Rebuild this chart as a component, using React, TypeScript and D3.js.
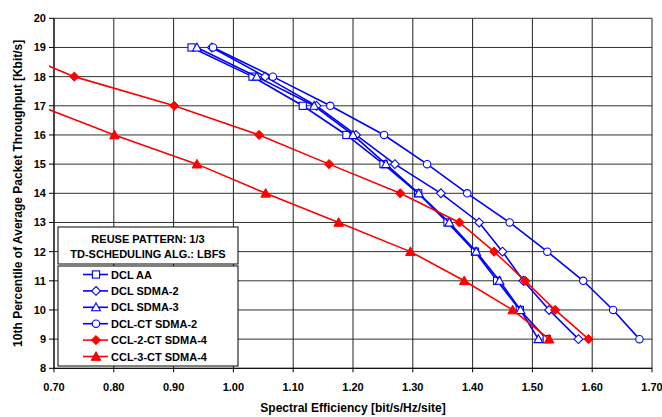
import React from 'react';
import * as d3 from 'd3';

// ---- data ----
const xTicks = [0.7, 0.8, 0.9, 1.0, 1.1, 1.2, 1.3, 1.4, 1.5, 1.6, 1.7];
const yTicks = [8, 9, 10, 11, 12, 13, 14, 15, 16, 17, 18, 19, 20];

const yBlue = [19, 18, 17, 16, 15, 14, 13, 12, 11, 10, 9];
const dclAA = [0.930, 1.032, 1.116, 1.189, 1.251, 1.309, 1.358, 1.404, 1.441, 1.479, 1.524];
const dclSdma2 = [0.964, 1.053, 1.139, 1.205, 1.270, 1.347, 1.411, 1.450, 1.485, 1.528, 1.577];
const dclSdma3 = [0.939, 1.039, 1.135, 1.200, 1.255, 1.310, 1.361, 1.406, 1.445, 1.480, 1.510];
const dclCtSdma2 = [0.966, 1.066, 1.162, 1.252, 1.324, 1.391, 1.462, 1.525, 1.585, 1.635, 1.679];

const yCcl2 = [19, 18, 17, 16, 15, 14, 13, 12, 11, 10, 9];
const ccl2CtSdma4 = [0.617, 0.734, 0.901, 1.043, 1.160, 1.279, 1.378, 1.436, 1.488, 1.538, 1.594];
const yCcl3 = [17, 16, 15, 14, 13, 12, 11, 10, 9];
const ccl3CtSdma4 = [0.675, 0.801, 0.939, 1.054, 1.176, 1.296, 1.386, 1.467, 1.528];

const seriesNames = ['DCL AA', 'DCL SDMA-2', 'DCL SDMA-3', 'DCL-CT SDMA-2', 'CCL-2-CT SDMA-4', 'CCL-3-CT SDMA-4'];
const seriesMarkers = ['square', 'diamond', 'triangle', 'circle', 'diamond', 'triangle'];
const seriesColors = ['#0000FF', '#0000FF', '#0000FF', '#0000FF', '#FF0000', '#FF0000'];
const seriesFilled = [false, false, false, false, true, true];
const seriesX = [dclAA, dclSdma2, dclSdma3, dclCtSdma2, ccl2CtSdma4, ccl3CtSdma4];
const seriesY = [yBlue, yBlue, yBlue, yBlue, yCcl2, yCcl3];

const legendTitle = ['REUSE PATTERN: 1/3', 'TD-SCHEDULING ALG.: LBFS'];
const xTitle = 'Spectral Efficiency [bit/s/Hz/site]';
const yTitle = '10th Percentile of Average Packet Throughput [Kbit/s]';

const W = 662;
const H = 417;
const PL = 54, PR = 652, PT = 18.3, PB = 368.3;
const FONT = '"Liberation Sans", Arial, sans-serif';

function Marker({ type, cx, cy, color, filled }: { type: string; cx: number; cy: number; color: string; filled: boolean }) {
  const fill = filled ? color : '#fff';
  const sw = filled ? 1 : 1.1;
  if (type === 'square') {
    const s = 3.6;
    return <rect x={cx - s} y={cy - s} width={2 * s} height={2 * s} fill={fill} stroke={color} strokeWidth={sw} />;
  }
  if (type === 'diamond') {
    const s = filled ? 4.6 : 4.4;
    return <path d={`M${cx},${cy - s}L${cx + s},${cy}L${cx},${cy + s}L${cx - s},${cy}Z`} fill={fill} stroke={color} strokeWidth={sw} />;
  }
  if (type === 'triangle') {
    const s = filled ? 4.8 : 4.4;
    return <path d={`M${cx},${cy - s}L${cx + s},${cy + s * 0.8}L${cx - s},${cy + s * 0.8}Z`} fill={fill} stroke={color} strokeWidth={sw} />;
  }
  return <circle cx={cx} cy={cy} r={3.7} fill={fill} stroke={color} strokeWidth={sw} />;
}

export default function App() {
  const x = d3.scaleLinear().domain([0.7, 1.7]).range([PL, PR]);
  const y = d3.scaleLinear().domain([8, 20]).range([PB, PT]);
  const line = d3.line<[number, number]>().x(d => x(d[0])).y(d => y(d[1]));

  const legX = 58, legW = 180;
  const leg1Top = 227, leg1Bot = 264;
  const leg2Top = 266, leg2Bot = 366;
  const legRow0 = 274.5, legStep = 16.4;

  return (
    <svg width={W} height={H} style={{ position: 'absolute', left: 0, top: 0, background: '#fff' }} fontFamily={FONT}>
      <defs>
        <clipPath id="plotclip">
          <rect x={PL - 5} y={PT - 6} width={PR - PL + 11} height={PB - PT + 12} />
        </clipPath>
      </defs>
      <rect x={0} y={0} width={W} height={H} fill="#fff" />
      {/* gridlines */}
      {yTicks.map(t => (
        <line key={'gy' + t} x1={PL} x2={PR} y1={y(t)} y2={y(t)} stroke="#2b352b" strokeWidth={1} />
      ))}
      {xTicks.map(t => (
        <line key={'gx' + t} x1={x(t)} x2={x(t)} y1={PT} y2={PB} stroke="#222" strokeWidth={1} />
      ))}
      {/* axes */}
      <line x1={PL} x2={PL} y1={PT} y2={PB} stroke="#000" strokeWidth={1} />
      <line x1={PL} x2={PR} y1={PB} y2={PB} stroke="#000" strokeWidth={1} />
      {yTicks.map(t => (
        <line key={'ty' + t} x1={PL - 5} x2={PL} y1={y(t)} y2={y(t)} stroke="#000" />
      ))}
      {xTicks.map(t => (
        <line key={'tx' + t} x1={x(t)} x2={x(t)} y1={PB} y2={PB + 4} stroke="#000" />
      ))}
      {yTicks.map(t => (
        <text key={'ly' + t} x={PL - 8} y={y(t)} textAnchor="end" dominantBaseline="central" fontSize={11} fontWeight="bold">{t}</text>
      ))}
      {xTicks.map(t => (
        <text key={'lx' + t} x={x(t)} y={387} textAnchor="middle" dominantBaseline="central" fontSize={11} fontWeight="bold">{t.toFixed(2)}</text>
      ))}
      <text x={(PL + PR) / 2} y={408} textAnchor="middle" dominantBaseline="central" fontSize={12} fontWeight="bold">{xTitle}</text>
      <text transform={`translate(18,${(PT + PB) / 2}) rotate(-90)`} textAnchor="middle" dominantBaseline="central" fontSize={12} fontWeight="bold">{yTitle}</text>

      {/* series */}
      <g clipPath="url(#plotclip)">
        {seriesX.map((xs, i) => {
          const pts: [number, number][] = xs.map((v, j) => [v, seriesY[i][j]]);
          return (
            <g key={'s' + i}>
              <path d={line(pts) || ''} fill="none" stroke={seriesColors[i]} strokeWidth={1.6} />
              {pts.filter(p => p[0] >= 0.7).map((p, j) => (
                <Marker key={j} type={seriesMarkers[i]} cx={x(p[0])} cy={y(p[1])} color={seriesColors[i]} filled={seriesFilled[i]} />
              ))}
            </g>
          );
        })}
      </g>

      {/* legend */}
      <rect x={legX} y={leg1Top} width={legW} height={leg1Bot - leg1Top} fill="#fff" stroke="#000" strokeWidth={1} />
      <text x={legX + legW / 2} y={238.5} textAnchor="middle" dominantBaseline="central" fontSize={11} fontWeight="bold">{legendTitle[0]}</text>
      <text x={legX + legW / 2} y={254} textAnchor="middle" dominantBaseline="central" fontSize={11} fontWeight="bold">{legendTitle[1]}</text>
      <rect x={legX} y={leg2Top} width={legW} height={leg2Bot - leg2Top} fill="#fff" stroke="#000" strokeWidth={1} />
      {seriesNames.map((name, i) => {
        const cy = legRow0 + i * legStep;
        return (
          <g key={'lg' + i}>
            <line x1={83} x2={108} y1={cy} y2={cy} stroke={seriesColors[i]} strokeWidth={1.6} />
            <Marker type={seriesMarkers[i]} cx={96} cy={cy} color={seriesColors[i]} filled={seriesFilled[i]} />
            <text x={111} y={cy} dominantBaseline="central" fontSize={11} fontWeight="bold">{name}</text>
          </g>
        );
      })}
    </svg>
  );
}
